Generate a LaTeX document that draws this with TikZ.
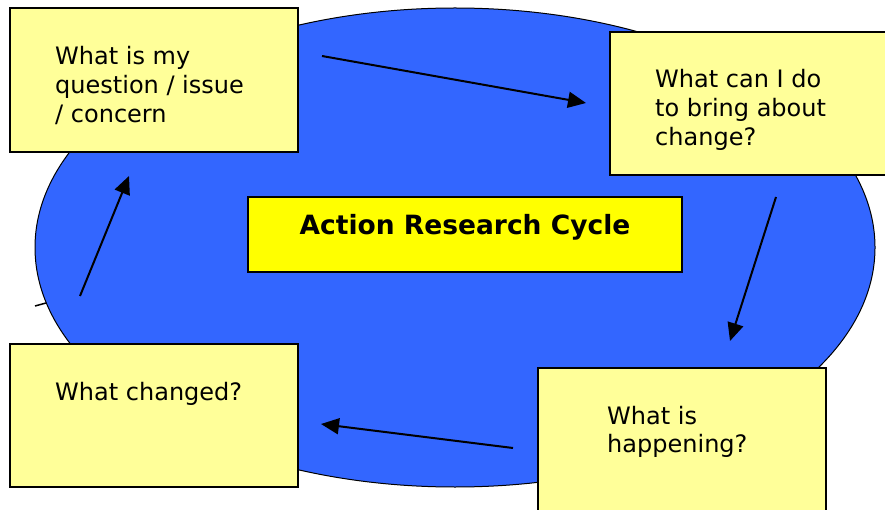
\documentclass[tikz,border=0pt]{standalone}
\usepackage{fontspec}
\setmainfont{DejaVu Sans}
\usetikzlibrary{arrows.meta}
\definecolor{cycblue}{HTML}{3366FF}
\definecolor{paleyel}{HTML}{FFFF99}
\definecolor{brightyel}{HTML}{FFFF00}
\begin{document}
\begin{tikzpicture}[x=1pt,y=-1pt,
  qbox/.style={draw=black,line width=1.5pt,fill=paleyel},
  qtext/.style={inner sep=0pt,anchor=base west,align=left,
    font=\fontsize{24}{29}\selectfont},
  cyc/.style={line width=2pt,-{Triangle[length=18pt,width=16pt]}}]
\useasboundingbox (0,0) rectangle (885,510);
% ellipse
\fill[cycblue,draw=black,line width=1pt] (455,247.5) ellipse [x radius=420pt,y radius=239.5pt];
\draw[line width=1.5pt] (35,306) -- (46,303);
% boxes
\draw[qbox] (10,8) rectangle (298,152);
\draw[qbox] (610,32) rectangle (890,175);
\draw[qbox] (10,344) rectangle (298,487);
\draw[qbox] (538,368) rectangle (826,520);
\node[draw=black,line width=1.5pt,fill=brightyel,minimum width=434pt,minimum height=75pt,inner sep=0pt] (title) at (465,234.5) {};
\node[inner sep=0pt,anchor=base,font=\fontsize{26.5}{30}\selectfont\bfseries] (titletext) at (465,235) {Action Research Cycle};
% texts (base anchor = baseline of last line)
\node[qtext] (q1) at (55,123) {What is my\\question / issue\\/ concern};
\node[qtext] (q2) at (655,146) {What can I do\\to bring about\\change?};
\node[qtext] (q3) at (55,400) {What changed?};
\node[qtext,font=\fontsize{24}{28}\selectfont] (q4) at (607,452) {What is\\happening?};
% arrows
\coordinate (a1s) at (322,56); \coordinate (a1e) at (586,103);
\coordinate (a2s) at (776,197); \coordinate (a2e) at (730,341);
\coordinate (a3s) at (513,448); \coordinate (a3e) at (321,424);
\coordinate (a4s) at (80,296); \coordinate (a4e) at (129,176);
\draw[cyc] (a1s) -- (a1e);
\draw[cyc] (a2s) -- (a2e);
\draw[cyc] (a3s) -- (a3e);
\draw[cyc] (a4s) -- (a4e);
\end{tikzpicture}
\end{document}
